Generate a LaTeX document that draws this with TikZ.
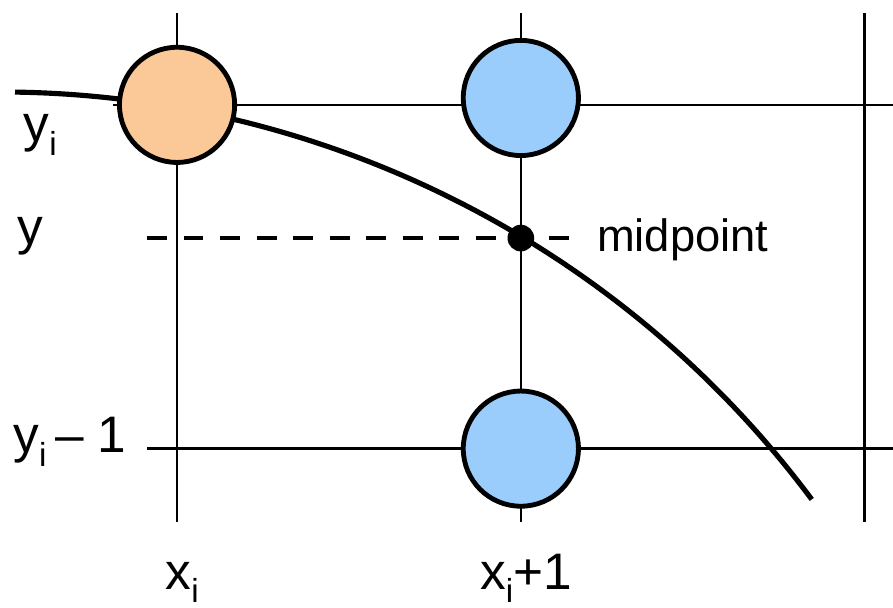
\documentclass[tikz,border=0pt]{standalone}
\usepackage{fontspec}
\setmainfont{Liberation Sans}
\usetikzlibrary{calc}
\definecolor{peach}{HTML}{FBC898}
\definecolor{sky}{HTML}{9ACCFC}
\newcommand{\lowi}{\raisebox{-0.26em}{\fontsize{11}{11}\selectfont i}}
\tikzset{grid/.style={line width=.85pt},pixel/.style={circle,draw,line width=1.6pt,minimum size=1.34cm,inner sep=0pt},lab/.style={anchor=base west,inner sep=0pt,font=\fontsize{17}{20}\selectfont}}

\begin{document}
\begin{tikzpicture}
\useasboundingbox (-2.06,-1.85) rectangle (8.33,5.22);
% grid
\foreach \c in {0,4,8} \draw[grid] (\c,5.07)--(\c,-0.85);
\draw[grid] (-0.74,4)--(8.33,4);\draw[grid] (-0.35,0)--(8.33,0);
% dashed level and curve
\coordinate (dl) at (-0.35,2.45);\coordinate (dr) at (4.57,2.45);
\draw[dashed,line width=1.3pt,dash pattern=on 6.6pt off 5.5pt] (dl)--(dr);
\coordinate (cc) at (-2.06,-7.63);
\draw[line width=1.7pt] ([shift={(89.15:11.78)}]cc) arc[start angle=89.15,end angle=36.7,radius=11.78];
% pixels
\node[pixel,fill=peach] (pa) at (0,4) {};
\node[pixel,fill=sky] (pb) at (4,4.08) {};
\node[pixel,fill=sky] (pc) at (4,0) {};
\node[circle,fill,inner sep=0pt,minimum size=0.31cm] (mid) at (4,2.45) {};
% labels
\node[lab] (ly1) at (-1.79,3.57) {y\lowi};
\node[lab] (ly) at (-1.86,2.38) {y};
\node[lab] (ly0) at (-1.91,-0.05) {y\lowi\,– 1};
\node[lab] (lx0) at (-0.14,-1.64) {x\lowi};
\node[lab] (lx1) at (3.52,-1.64) {x\lowi+1};
\node[lab,font=\fontsize{15}{18}\selectfont] (lmid) at (4.88,2.29) {midpoint};
\end{tikzpicture}
\end{document}
